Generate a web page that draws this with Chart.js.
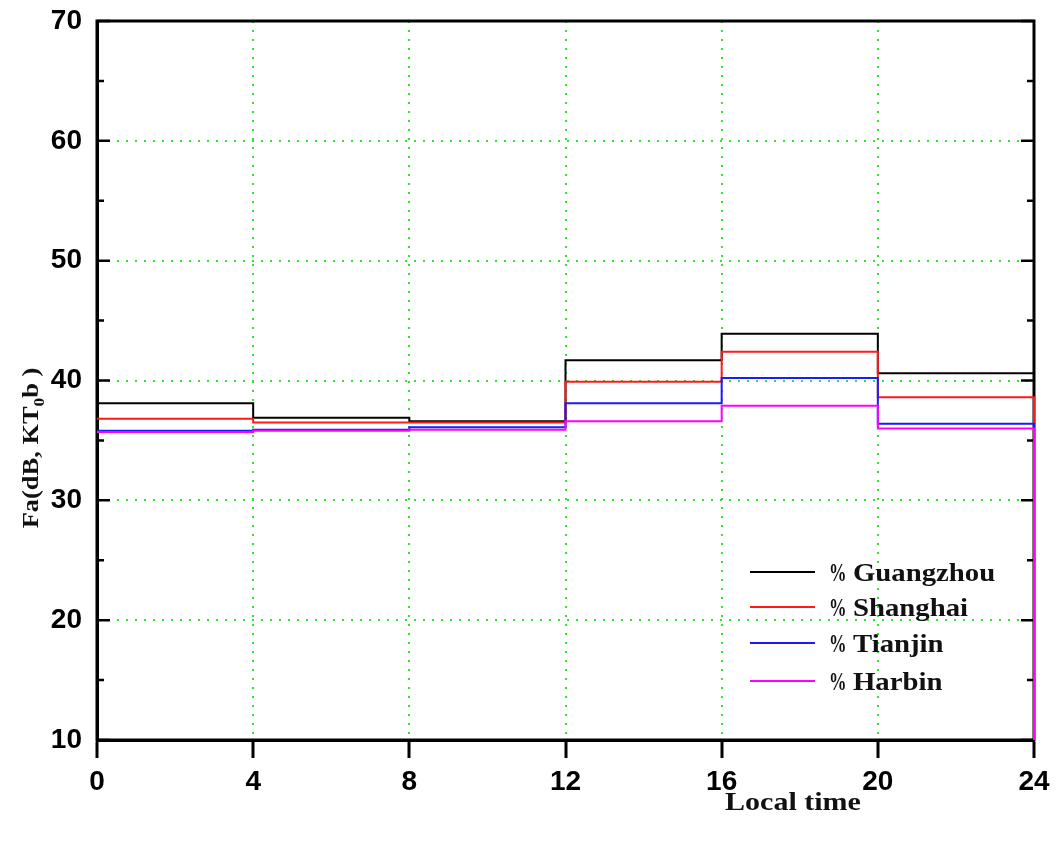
<!DOCTYPE html>
<html>
<head>
<meta charset="utf-8">
<script src="https://cdn.jsdelivr.net/npm/chart.js@4.4.0/dist/chart.umd.min.js"></script>
<style>
html,body{margin:0;padding:0;background:#fff;}
#wrap{width:1059px;height:849px;position:relative;}
</style>
</head>
<body>
<div id="wrap"><canvas id="c" width="1059" height="849"></canvas></div>
<script>
// Local time (h) at each step start; last entry is the right edge where lines drop
const hours = [0, 4, 8, 12, 16, 20, 24];
const seriesNames = ['Guangzhou', 'Shanghai', 'Tianjin', 'Harbin'];
const guangzhou = [38.1, 36.9, 36.6, 41.7, 43.9, 40.6, 10];
const shanghai  = [36.8, 36.5, 36.5, 39.9, 42.4, 38.6, 10];
const tianjin   = [35.8, 35.9, 36.1, 38.1, 40.2, 36.4, 10];
const harbin    = [35.7, 35.8, 35.9, 36.6, 37.9, 36.0, 10];
const xTicks = [0, 4, 8, 12, 16, 20, 24];
const yTicks = [10, 20, 30, 40, 50, 60, 70];
const colors = ['#000000', '#ff1a1a', '#1a1aff', '#ff00ff'];
const xTitle = 'Local time';

const seriesValues = [guangzhou, shanghai, tianjin, harbin];
const datasets = seriesValues.map((vals, i) => ({
  label: seriesNames[i],
  data: hours.map((h, j) => ({x: h, y: vals[j]})),
  borderColor: colors[i],
  backgroundColor: colors[i],
  borderWidth: 2,
  pointRadius: 0,
  stepped: 'before',
  fill: false,
  clip: false,
  order: 4 - i
}));

function stretchedText(ctx, txt, x, y, sx) {
  ctx.save();
  ctx.translate(x, y);
  ctx.scale(sx, 1);
  ctx.fillText(txt, 0, 0);
  ctx.restore();
  return ctx.measureText(txt).width * sx;
}

const decor = {
  id: 'decor',
  beforeDatasetsDraw(chart) {
    const {ctx, chartArea: a, scales} = chart;
    ctx.save();
    ctx.strokeStyle = '#000';
    ctx.lineWidth = 3;
    ctx.setLineDash([]);
    ctx.strokeRect(a.left, a.top, a.right - a.left, a.bottom - a.top);
    // inward ticks on left and right axes
    const y = scales.y;
    for (let v = 10; v <= 70; v += 5) {
      const py = y.getPixelForValue(v);
      const len = (v % 10 === 0) ? 13 : 7;
      ctx.lineWidth = 2.5;
      ctx.beginPath();
      ctx.moveTo(a.left, py); ctx.lineTo(a.left + len, py);
      ctx.moveTo(a.right, py); ctx.lineTo(a.right - len, py);
      ctx.stroke();
    }
    ctx.restore();
  },
  afterDraw(chart) {
    const {ctx} = chart;
    ctx.save();
    ctx.fillStyle = '#111';
    // legend
    const ly = [572, 607, 643, 681];
    chart.data.datasets.forEach((ds, i) => {
      ctx.strokeStyle = ds.borderColor;
      ctx.lineWidth = 2;
      ctx.beginPath();
      ctx.moveTo(750, ly[i]); ctx.lineTo(815, ly[i]);
      ctx.stroke();
      ctx.textBaseline = 'alphabetic';
      ctx.textAlign = 'left';
      ctx.font = 'bold 25px "Liberation Serif"';
      stretchedText(ctx, '%', 829, ly[i] + 9, 0.7);
      ctx.font = 'bold 25px "Liberation Serif"';
      stretchedText(ctx, ds.label, 853, ly[i] + 9, 1.15);
    });
    // x title
    ctx.font = 'bold 25px "Liberation Serif"';
    ctx.textAlign = 'left';
    const w = ctx.measureText(xTitle).width * 1.2;
    stretchedText(ctx, xTitle, 793 - w / 2, 810, 1.2);
    // y title (rotated) with subscript
    ctx.save();
    ctx.translate(38, 448);
    ctx.rotate(-Math.PI / 2);
    const sx = 1.15;
    const p1 = 'Fa(dB, KT', p2 = '0', p3 = 'b )';
    ctx.font = 'bold 23px "Liberation Serif"';
    const w1 = ctx.measureText(p1).width * sx;
    const w3 = ctx.measureText(p3).width * sx;
    ctx.font = 'bold 15px "Liberation Serif"';
    const w2 = ctx.measureText(p2).width * sx;
    let x0 = -(w1 + w2 + w3) / 2;
    ctx.font = 'bold 23px "Liberation Serif"';
    stretchedText(ctx, p1, x0, 0, sx);
    ctx.font = 'bold 15px "Liberation Serif"';
    stretchedText(ctx, p2, x0 + w1, 6, sx);
    ctx.font = 'bold 23px "Liberation Serif"';
    stretchedText(ctx, p3, x0 + w1 + w2, 0, sx);
    ctx.restore();
    ctx.restore();
  }
};

new Chart(document.getElementById('c'), {
  type: 'line',
  data: {datasets},
  plugins: [decor],
  options: {
    responsive: false,
    animation: false,
    devicePixelRatio: 1,
    layout: {padding: {left: 0, right: 25, top: 21, bottom: 0}},
    plugins: {legend: {display: false}, tooltip: {enabled: false}, title: {display: false}},
    scales: {
      x: {
        type: 'linear',
        min: 0, max: 24,
        afterFit(s) { s.height = 109; s.paddingLeft = 0; s.paddingRight = 0; },
        afterBuildTicks(s) { s.ticks = xTicks.map(v => ({value: v})); },
        ticks: {
          color: '#000',
          font: {family: '"Liberation Sans"', size: 28, weight: 'bold'},
          padding: 7,
          maxRotation: 0,
          autoSkip: false
        },
        grid: {
          color: (c) => (c.tick && (c.tick.value === 0 || c.tick.value === 24)) ? 'rgba(0,0,0,0)' : '#2ee62e',
          lineWidth: 2,
          drawTicks: true,
          tickLength: 18,
          tickColor: '#000',
          tickWidth: 3,
          tickBorderDash: []
        },
        border: {display: true, color: '#000', width: 3, dash: [2, 7]}
      },
      y: {
        type: 'linear',
        min: 10, max: 70,
        afterFit(s) { s.width = 97; s.paddingTop = 0; s.paddingBottom = 0; },
        afterBuildTicks(s) { s.ticks = yTicks.map(v => ({value: v})); },
        ticks: {
          color: '#000',
          font: {family: '"Liberation Sans"', size: 28, weight: 'bold'},
          padding: 15
        },
        grid: {
          color: (c) => (c.tick && (c.tick.value === 10 || c.tick.value === 70)) ? 'rgba(0,0,0,0)' : '#2ee62e',
          lineWidth: 2,
          drawTicks: false
        },
        border: {display: true, color: '#000', width: 3, dash: [2, 7]}
      }
    }
  }
});
</script>
</body>
</html>
